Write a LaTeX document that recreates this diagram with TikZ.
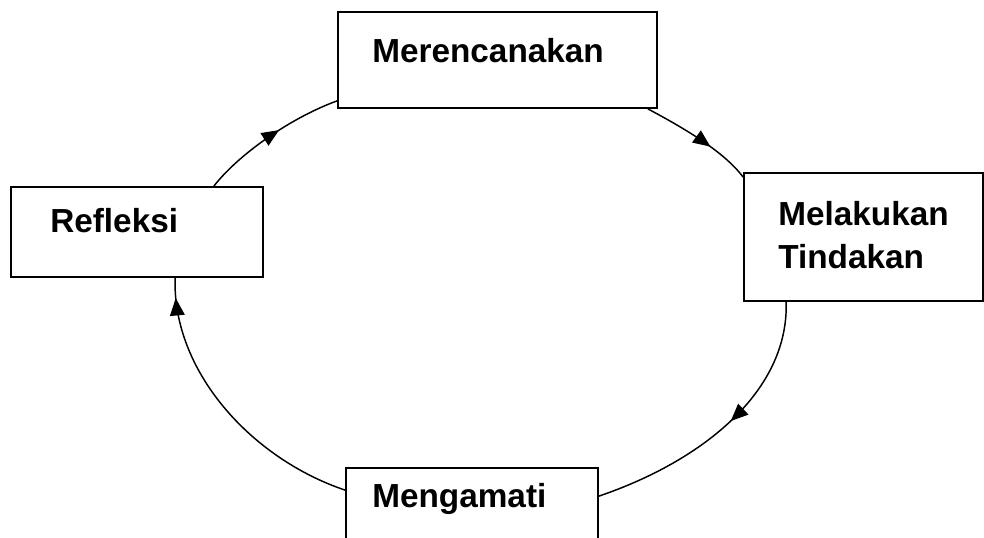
\documentclass[tikz,border=0pt]{standalone}
\usepackage{fontspec}
\setmainfont{Liberation Sans}
\usetikzlibrary{fit,calc,decorations.markings,arrows.meta}
\begin{document}
\begin{tikzpicture}[x=0.75pt,y=-0.75pt,
  box/.style={draw, line width=1.3pt, inner sep=0pt},
  lbl/.style={anchor=base west, inner sep=0pt, font=\fontsize{25}{30}\selectfont\bfseries},
  flow/.style={line width=1.1pt, postaction={decorate},
    decoration={markings, mark=at position #1 with {\arrow{Triangle[length=13pt,width=11pt]}}}}
]
\useasboundingbox (0,0) rectangle (984,538);
\clip (0,0) rectangle (984,538);
\fill[white] (0,0) rectangle (984,538);

\node[box, fit={(338,12) (657,108)}] (plan) {};
\node[box, fit={(744,173) (983,301)}] (act) {};
\node[box, fit={(11,187) (263,277)}] (refl) {};
\node[box, fit={(346,468) (598,570)}] (obs) {};

\node[lbl] (tplan) at (372,63) {Merencanakan};
\node[lbl] (tact1) at (778,225) {Melakukan};
\node[lbl] (tact2) at (778,268) {Tindakan};
\node[lbl] (trefl) at (50,233) {Refleksi};
\node[lbl] (tobs) at (372,507) {Mengamati};

\draw[flow=0.62] ($(plan.south east)+(-10,0)$) .. controls (678,125) and (723,150) .. ($(act.north west)+(0,5)$);
\draw[flow=0.47] ($(act.south west)+(43,0)$) .. controls (789,390) and (705,460) .. ($(obs.north east)+(0,29)$);
\draw[flow=0.93] ($(obs.north west)+(0,23)$) .. controls (250,458) and (172,370) .. ($(refl.south west)+(165,0)$);
\draw[flow=0.57] ($(refl.north east)+(-50,0)$) .. controls (238,155) and (290,118) .. ($(plan.south west)+(0,-8)$);
\end{tikzpicture}
\end{document}
